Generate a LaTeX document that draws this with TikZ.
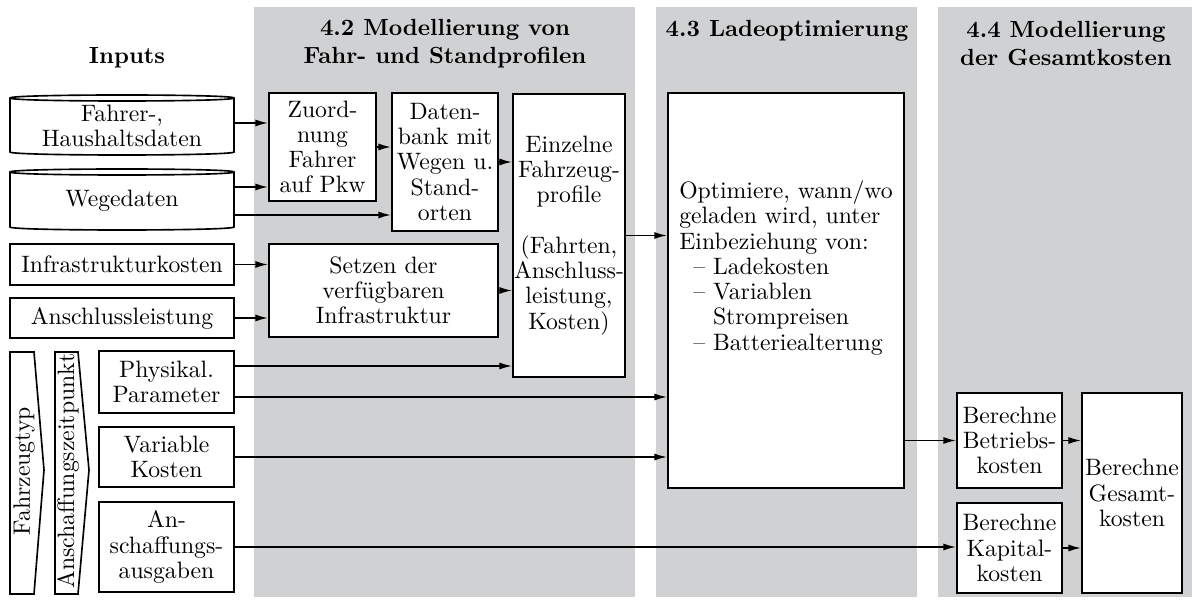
\documentclass[tikz,border=0pt]{standalone}
\usetikzlibrary{arrows.meta}

\definecolor{bandgray}{RGB}{208,209,211}
\tikzset{every picture/.style={line width=0.7pt}}
\tikzset{
	corners/.style n args={4}{at={({(#1+#3)/2},{(#2+#4)/2})},
		minimum width={(#3-#1)*0.428pt}, minimum height={(#4-#2)*0.428pt}},
	box/.style={draw, fill=white, inner sep=0pt, align=center, font=\fontsize{10.15}{10.8}\selectfont},
	plain/.style={inner sep=0pt, align=center, font=\fontsize{10.15}{10.8}\selectfont},
	band/.style={fill=bandgray, draw=none},
	arr/.style={-{Latex[length=5.5pt,width=3pt]}},
	title/.style={font=\bfseries, align=center}}

\begin{document}
\begin{tikzpicture}[x=0.428pt,y=0.428pt,yscale=-1,xscale=1]
	\useasboundingbox (0,0) rectangle (1192,601);

	%Shape: Bands
	\fill[band] (254,7) rectangle (635,597);
	\fill[band] (656,7) rectangle (917,597);
	\fill[band] (938,7) rectangle (1192,597);

	% Text Node
	\node[title] (tinputs) at (127,58) {Inputs};
	% Text Node
	\node[title] (tprofile) at (445,44) {4.2 Modellierung von\\Fahr- und Standprofilen};
	% Text Node
	\node[title] (tlade) at (787,31) {4.3 Ladeoptimierung};
	% Text Node
	\node[title] (tkosten) at (1066,44) {4.4 Modellierung\\der Gesamtkosten};

	%Shape: Can
	\draw[fill=white] (10,98) -- (10,152) .. controls (10,156) and (234,156) .. (234,152) -- (234,98) .. controls (234,94) and (10,94) .. (10,98) -- cycle;
	\draw (10,98) .. controls (10,102) and (234,102) .. (234,98);
	%Shape: Can
	\draw[fill=white] (10,172) -- (10,227) .. controls (10,231) and (234,231) .. (234,227) -- (234,172) .. controls (234,168) and (10,168) .. (10,172) -- cycle;
	\draw (10,172) .. controls (10,176) and (234,176) .. (234,172);
	%Shape: Chevron
	\draw (10,352) -- (34,352) -- (44,470) -- (34,594) -- (10,594) -- cycle;
	%Shape: Chevron
	\draw (55,352) -- (78,352) -- (89,470) -- (78,594) -- (55,594) -- cycle;

	% Inputs
	\node[plain, corners={10}{97}{234}{155}] (fahrer) {Fahrer-,\\Haushaltsdaten};
	\node[plain, corners={10}{171}{234}{230}] (wege) {Wegedaten};
	\node[box, corners={10}{244}{234}{285}] (infra) {Infrastrukturkosten};
	\node[box, corners={10}{298}{234}{338}] (anschl) {Anschlussleistung};
	\node[plain, rotate=90] (typ) at (24,471) {Fahrzeugtyp};
	\node[plain, rotate=90] (zeitpkt) at (68,471) {Anschaffungszeitpunkt};
	\node[box, corners={99}{351}{234}{413}] (phys) {Physikal.\\Parameter};
	\node[box, corners={99}{427}{234}{487}] (varkost) {Variable\\Kosten};
	\node[box, corners={99}{502}{234}{592}] (ausgaben) {An-\\schaffungs-\\ausgaben};

	% 4.2
	\node[box, corners={269}{93}{376}{201}] (zuord) {Zuord-\\nung\\Fahrer\\auf Pkw};
	\node[box, corners={392}{93}{498}{231}] (daten) {Daten-\\bank mit\\Wegen u.\\Stand-\\orten};
	\node[box, corners={269}{244}{498}{337}] (setzen) {Setzen der\\verf\"ugbaren\\Infrastruktur};
	\node[box, corners={513}{94}{625}{377}] (einzel) {Einzelne\\Fahrzeug-\\profile\\[10.8pt](Fahrten,\\Anschluss-\\leistung,\\Kosten)};

	% 4.3
	\node[box, corners={668}{93}{904}{488}] (opt) {};
	\node[plain, align=left] (opttxt) at (786,268) {Optimiere, wann/wo\\geladen wird, unter\\Einbeziehung von:\\
		\hspace*{6pt}--~Ladekosten\\\hspace*{6pt}--~Variablen\\\hspace*{6pt}\phantom{--~}Strompreisen\\\hspace*{6pt}--~Batteriealterung};

	% 4.4
	\node[box, corners={957}{393}{1062}{488}] (betrieb) {Berechne\\Betriebs-\\kosten};
	\node[box, corners={957}{503}{1062}{593}] (kapital) {Berechne\\Kapital-\\kosten};
	\node[box, corners={1082}{393}{1182}{593}] (gesamt) {Berechne\\Gesamt-\\kosten};

	% Arrows
	\draw[arr] (fahrer.east |- 0,123) -- (zuord.west |- 0,123);
	\draw[arr] (wege.east |- 0,187) -- (zuord.west |- 0,187);
	\draw[arr] (wege.east |- 0,215) -- (daten.west |- 0,215);
	\draw[arr] (zuord.east) -- (daten.west |- zuord.east);
	\draw[arr] (daten.east) -- (einzel.west |- daten.east);
	\draw[arr] (infra.east) -- (setzen.west |- infra.east);
	\draw[arr] (anschl.east) -- (setzen.west |- anschl.east);
	\draw[arr] (setzen.east) -- (einzel.west |- setzen.east);
	\draw[arr] (phys.east |- 0,366) -- (einzel.west |- 0,366);
	\draw[arr] (phys.east |- 0,397) -- (opt.west |- 0,397);
	\draw[arr] (varkost.east) -- (opt.west |- varkost.east);
	\draw[arr] (einzel.east) -- (opt.west |- einzel.east);
	\draw[arr] (opt.east |- betrieb.west) -- (betrieb.west);
	\draw[arr] (ausgaben.east) -- (kapital.west |- ausgaben.east);
	\draw[arr] (betrieb.east) -- (gesamt.west |- betrieb.east);
	\draw[arr] (kapital.east) -- (gesamt.west |- kapital.east);

\end{tikzpicture}
\end{document}
